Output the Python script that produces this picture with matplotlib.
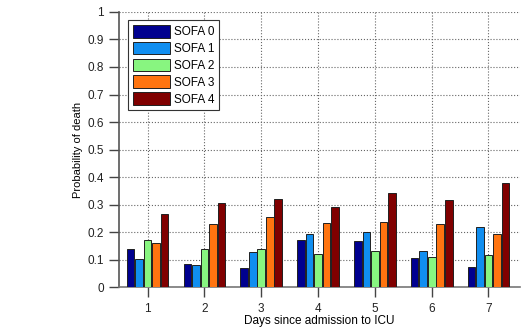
import numpy as np
import matplotlib
matplotlib.use("Agg")
import matplotlib.pyplot as plt

plt.rcParams['font.family'] = ['Liberation Sans', 'DejaVu Sans']

days = [1, 2, 3, 4, 5, 6, 7]
sofa_labels = ['SOFA 0', 'SOFA 1', 'SOFA 2', 'SOFA 3', 'SOFA 4']
sofa0 = [0.140, 0.085, 0.068, 0.172, 0.168, 0.107, 0.073]
sofa1 = [0.102, 0.080, 0.128, 0.192, 0.200, 0.133, 0.220]
sofa2 = [0.172, 0.140, 0.140, 0.122, 0.132, 0.110, 0.118]
sofa3 = [0.162, 0.230, 0.255, 0.232, 0.238, 0.228, 0.193]
sofa4 = [0.265, 0.305, 0.322, 0.292, 0.342, 0.315, 0.378]
series = [sofa0, sofa1, sofa2, sofa3, sofa4]
colors = ['#00008f', '#108ef0', '#88f580', '#ff7410', '#800000']

fig = plt.figure(figsize=(5.25, 3.32), dpi=100)
ax = fig.add_axes([0.227, 0.135, 0.763, 0.829])

x = np.array(days, dtype=float)
step = 0.15
w = 0.135
for i, (vals, lab, c) in enumerate(zip(series, sofa_labels, colors)):
    ax.bar(x + (i - 2) * step, vals, width=w, color=c, edgecolor='#202020',
           linewidth=0.7, label=lab, zorder=3)

ax.set_xlim(0.5, 7.55)
ax.set_ylim(0, 1)
ax.set_xticks(days)
ax.set_yticks(np.arange(0, 1.01, 0.1))
ax.set_yticklabels(['0', '0.1', '0.2', '0.3', '0.4', '0.5', '0.6', '0.7', '0.8', '0.9', '1'])
ax.tick_params(direction='out', length=7.5, width=1, labelsize=8.5, color='#444444',
               labelcolor='#222222')
ax.tick_params(axis='x', pad=4)
ax.grid(True, linestyle=':', color='#666666', linewidth=0.8, zorder=0)
for s in ['top', 'right']:
    ax.spines[s].set_visible(False)
ax.spines['left'].set_color('#555555')
ax.spines['left'].set_linewidth(1.2)
ax.spines['bottom'].set_color('#777777')
ax.spines['bottom'].set_linewidth(1.2)

ax.set_xlabel('Days since admission to ICU', fontsize=8.5, labelpad=0)
ax.set_ylabel('Probability of death', fontsize=8, labelpad=3)

leg = ax.legend(loc='upper left', bbox_to_anchor=(0.022, 0.971), fontsize=8.5,
                handlelength=3.2, handleheight=1.3, handletextpad=0.3,
                labelspacing=0.3, borderpad=0.4, borderaxespad=0,
                fancybox=False, framealpha=1, edgecolor='#333333')
leg.get_frame().set_linewidth(0.8)

fig.savefig('out.png', dpi=100)
